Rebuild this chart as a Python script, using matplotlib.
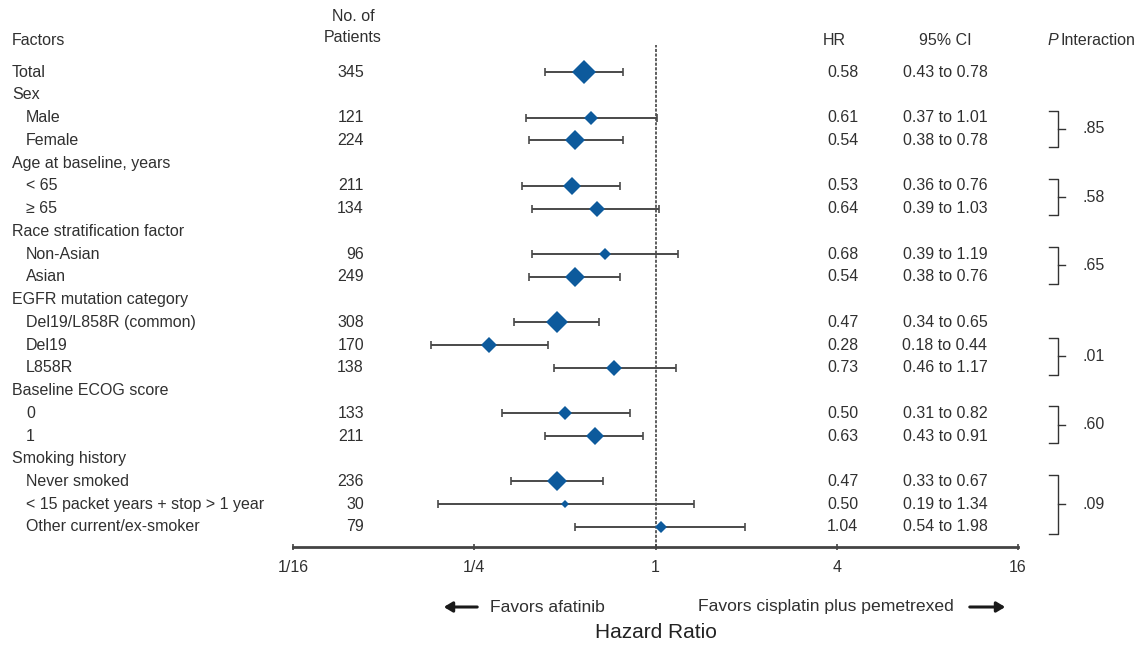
import numpy as np
import matplotlib.pyplot as plt
import matplotlib.patches as mpatches
import matplotlib.transforms as mtransforms

# data
labels = ['Total', 'Sex', 'Male', 'Female', 'Age at baseline, years', '< 65', '\u2265 65',
          'Race stratification factor', 'Non-Asian', 'Asian', 'EGFR mutation category',
          'Del19/L858R (common)', 'Del19', 'L858R', 'Baseline ECOG score', '0', '1',
          'Smoking history', 'Never smoked', '< 15 packet years + stop > 1 year',
          'Other current/ex-smoker']
is_header = [False, True, False, False, True, False, False, True, False, False, True,
             False, False, False, True, False, False, True, False, False, False]
n_patients = [345, None, 121, 224, None, 211, 134, None, 96, 249, None, 308, 170, 138,
              None, 133, 211, None, 236, 30, 79]
hr = [0.58, None, 0.61, 0.54, None, 0.53, 0.64, None, 0.68, 0.54, None, 0.47, 0.28, 0.73,
      None, 0.50, 0.63, None, 0.47, 0.50, 1.04]
ci_low = [0.43, None, 0.37, 0.38, None, 0.36, 0.39, None, 0.39, 0.38, None, 0.34, 0.18, 0.46,
          None, 0.31, 0.43, None, 0.33, 0.19, 0.54]
ci_high = [0.78, None, 1.01, 0.78, None, 0.76, 1.03, None, 1.19, 0.76, None, 0.65, 0.44, 1.17,
           None, 0.82, 0.91, None, 0.67, 1.34, 1.98]
# P interaction groups: (first row, last row, label)
p_groups = [(2, 3, '.85'), (5, 6, '.58'), (8, 9, '.65'), (12, 13, '.01'), (15, 16, '.60'),
            (18, 20, '.09')]
xticks = [1/16, 1/4, 1, 4, 16]
xticklabels = ['1/16', '1/4', '1', '4', '16']

W, H = 1142, 646
fig = plt.figure(figsize=(W / 100, H / 100), dpi=100)
plt.rcParams['font.family'] = ['Liberation Sans', 'DejaVu Sans']

ax = fig.add_axes([293 / W, (H - 547) / H, (1018 - 293) / W, (547 - 45) / H])
ax.set_xscale('log', base=2)
ax.set_xlim(1/16, 16)
ax.set_ylim(20.88, -1.19)

blue = '#0d5a9c'
txt = '#303030'
for i in range(len(labels)):
    if hr[i] is None:
        continue
    ax.errorbar(hr[i], i, xerr=[[hr[i] - ci_low[i]], [ci_high[i] - hr[i]]], fmt='none',
                ecolor='#4a4a4a', elinewidth=1.4, capsize=3, capthick=1.2, zorder=2)
    ax.plot(hr[i], i, marker='D', color=blue, markersize=0.66 * np.sqrt(n_patients[i]),
            markeredgewidth=0, zorder=3)

ax.axvline(1, color='#333333', lw=1.1, ls=(0, (2, 1)), zorder=1)

for s in ['top', 'left', 'right']:
    ax.spines[s].set_visible(False)
ax.spines['bottom'].set_linewidth(2)
ax.spines['bottom'].set_color('#444444')
ax.set_yticks([])
ax.set_xticks(xticks)
ax.set_xticklabels(xticklabels, fontsize=11.5, color=txt)
ax.minorticks_off()
ax.tick_params(axis='x', direction='inout', length=5, width=1.2, color='#444444', pad=7)

# text columns
tr = mtransforms.blended_transform_factory(fig.transFigure, ax.transData)
fx = lambda px: px / W
row = lambda py: (py - 72) / 22.75
fs = 11.5
hdr_y = row(40)
ax.text(fx(12), hdr_y, 'Factors', transform=tr, fontsize=fs, color=txt, va='center', clip_on=False)
ax.text(fx(353), row(16), 'No. of', transform=tr, fontsize=fs, color=txt, va='center',
        ha='center', clip_on=False)
ax.text(fx(353), row(37), 'Patients', transform=tr, fontsize=fs, color=txt, va='center',
        ha='center', clip_on=False)
ax.text(fx(834), hdr_y, 'HR', transform=tr, fontsize=fs, color=txt, va='center', ha='center', clip_on=False)
ax.text(fx(945), hdr_y, '95% CI', transform=tr, fontsize=fs, color=txt, va='center', ha='center', clip_on=False)
ax.text(fx(1047), hdr_y, 'P', transform=tr, fontsize=fs, color=txt, va='center', ha='left',
        style='italic', clip_on=False)
ax.text(fx(1060), hdr_y, 'Interaction', transform=tr, fontsize=fs, color=txt, va='center', ha='left', clip_on=False)

for i, lab in enumerate(labels):
    x0 = 12 if (is_header[i] or i == 0) else 26
    ax.text(fx(x0), i, lab, transform=tr, fontsize=fs, color=txt, va='center', clip_on=False)
    if n_patients[i] is not None:
        ax.text(fx(364), i, str(n_patients[i]), transform=tr, fontsize=fs, color=txt,
                va='center', ha='right', clip_on=False)
        ax.text(fx(827), i, '%.2f' % hr[i], transform=tr, fontsize=fs, color=txt,
                va='center', ha='left', clip_on=False)
        ax.text(fx(945), i, '%.2f to %.2f' % (ci_low[i], ci_high[i]), transform=tr,
                fontsize=fs, color=txt, va='center', ha='center', clip_on=False)

# brackets with P values
for r0, r1, p in p_groups:
    top, bot = r0 - 0.3, r1 + 0.3
    mid = (top + bot) / 2
    ax.plot([fx(1049), fx(1058), fx(1058), fx(1049)], [top, top, bot, bot], transform=tr,
            color='#333333', lw=1, clip_on=False)
    ax.plot([fx(1058), fx(1065)], [mid, mid], transform=tr, color='#333333', lw=1, clip_on=False)
    ax.text(fx(1083), mid, p, transform=tr, fontsize=fs, color=txt, va='center', ha='left',
            clip_on=False)

# favors arrows and axis title
fy = lambda py: 1 - py / H
fig.text(fx(490), fy(607), 'Favors afatinib', fontsize=12.6, color=txt, va='center')
fig.text(fx(698), fy(607), 'Favors cisplatin plus pemetrexed', fontsize=12.6,
         color=txt, va='center')
for a, b in [(480, 441), (967, 1008)]:
    fig.add_artist(mpatches.FancyArrowPatch((fx(a), fy(607)), (fx(b), fy(607)),
                   transform=fig.transFigure, arrowstyle='-|>,head_length=5,head_width=3',
                   lw=2.2, color='#1a1a1a'))
fig.text(fx(656), fy(633), 'Hazard Ratio', fontsize=15, color='#222222',
         ha='center', va='center')

fig.savefig('out.png', dpi=100, facecolor='white')
